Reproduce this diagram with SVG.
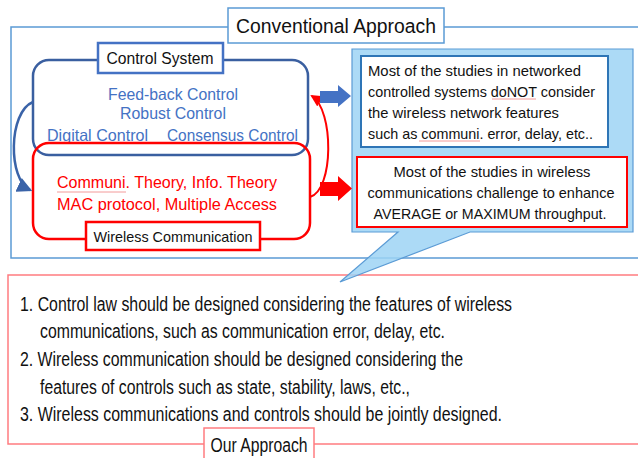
<svg xmlns="http://www.w3.org/2000/svg" width="638" height="458" viewBox="0 0 638 458">
<style>
text{font-family:"Liberation Sans",Arial,sans-serif;}
.frameB{fill:none;stroke:#5b9bd5;stroke-width:1.5}
.frameR{fill:none;stroke:#ff7c80;stroke-width:1.5}
.blueT{fill:#4472c4;font-size:16.5px}
.redT{fill:#ff0000;font-size:16.5px}
.bk{fill:#111;}
.wavy{fill:none;stroke:#f08080;stroke-width:0.8}
</style>
<defs>
<marker id="ahB" markerWidth="6" markerHeight="6" refX="5" refY="3" orient="auto" markerUnits="strokeWidth"><path d="M0,0 L6,3 L0,6 Z" fill="#3a63a8"/></marker>
<marker id="ahR" markerWidth="6" markerHeight="6" refX="5" refY="3" orient="auto" markerUnits="strokeWidth"><path d="M0,0 L6,3 L0,6 Z" fill="#ff0000"/></marker>
</defs>

<!-- Our Approach frame -->
<g id="our-approach">
<path class="frameR" d="M640,275 L8,275 L8,444 L204,444 M314,444 L640,444"/>
<rect x="204" y="428" width="110" height="34" fill="#fff" stroke="#ff7c80" stroke-width="1.5"/>
<text x="259" y="452" font-size="20" text-anchor="middle" class="bk" textLength="97" lengthAdjust="spacingAndGlyphs">Our Approach</text>
<g font-size="20" class="bk">
<text x="20" y="311" textLength="492" lengthAdjust="spacingAndGlyphs">1. Control law should be designed considering the features of wireless</text>
<text x="40" y="338" textLength="405" lengthAdjust="spacingAndGlyphs">communications, such as communication error, delay, etc.</text>
<text x="20" y="366" textLength="443" lengthAdjust="spacingAndGlyphs">2. Wireless communication should be designed considering the</text>
<text x="40" y="394" textLength="370" lengthAdjust="spacingAndGlyphs">features of controls such as state, stability, laws, etc.,</text>
<text x="20" y="421" textLength="482" lengthAdjust="spacingAndGlyphs">3. Wireless communications and controls should be jointly designed.</text>
</g>
</g>

<!-- Conventional Approach frame -->
<g id="conventional-approach">
<path class="frameB" d="M228,27 L11,27 L11,258 L640,258 M444,27 L640,27"/>
<rect x="228" y="8" width="216" height="35" fill="#fff" stroke="#5b9bd5" stroke-width="1.5"/>
<text x="336" y="33" font-size="20" text-anchor="middle" class="bk" textLength="200" lengthAdjust="spacingAndGlyphs">Conventional Approach</text>
</g>

<!-- Control System -->
<g id="control-system">
<rect x="33" y="60" width="275" height="95" rx="16" fill="none" stroke="#3a5fa0" stroke-width="2.5"/>
<rect x="98" y="43" width="125" height="30" fill="#fff" stroke="#4472c4" stroke-width="2.5"/>
<text x="160" y="64" font-size="16" text-anchor="middle" class="bk" textLength="107" lengthAdjust="spacingAndGlyphs">Control System</text>
<text x="173" y="100" class="blueT" text-anchor="middle" textLength="130" lengthAdjust="spacingAndGlyphs">Feed-back Control</text>
<text x="173" y="119" class="blueT" text-anchor="middle" textLength="106" lengthAdjust="spacingAndGlyphs">Robust Control</text>
<text x="47" y="141" class="blueT" textLength="101" lengthAdjust="spacingAndGlyphs">Digital Control</text>
<text x="167" y="141" class="blueT" textLength="131" lengthAdjust="spacingAndGlyphs">Consensus Control</text>
</g>

<!-- Wireless Communication -->
<g id="wireless-communication">
<rect x="33" y="143" width="277" height="96" rx="16" fill="none" stroke="#ff0000" stroke-width="2.5"/>
<rect x="86" y="222" width="174" height="28" fill="#fff" stroke="#ff0000" stroke-width="2.5"/>
<text x="173" y="242" font-size="14.5" text-anchor="middle" class="bk" textLength="159" lengthAdjust="spacingAndGlyphs">Wireless Communication</text>
<text x="57" y="188" class="redT" textLength="220" lengthAdjust="spacingAndGlyphs">Communi. Theory, Info. Theory</text>
<path class="wavy" d="M57,192 L126,192"/>
<text x="57" y="210" class="redT" textLength="220" lengthAdjust="spacingAndGlyphs">MAC protocol, Multiple Access</text>
</g>

<!-- Callout -->
<g id="callout">
<path d="M352,49 L633,49 L633,232 L470,232 L340,282 L398,232 L352,232 Z" fill="#9ed3f4" fill-opacity="0.85" stroke="#5b9bd5" stroke-width="1.2"/>
</g>

<g id="note-control">
<rect x="361" y="56" width="247" height="91" fill="#fff" stroke="#2e75b6" stroke-width="2"/>
<g font-size="15" class="bk">
<text x="368" y="76" textLength="213" lengthAdjust="spacingAndGlyphs">Most of the studies in networked</text>
<text x="368" y="97" textLength="227" lengthAdjust="spacingAndGlyphs">controlled systems doNOT consider</text>
<text x="368" y="118" textLength="191" lengthAdjust="spacingAndGlyphs">the wireless network features</text>
<text x="368" y="139" textLength="225" lengthAdjust="spacingAndGlyphs">such as communi. error, delay, etc..</text>
</g>
<path class="wavy" d="M492,99 L536,99 M419,141 L480,141"/>
</g>

<g id="note-wireless">
<rect x="357" y="157" width="270" height="70" fill="#fff" stroke="#ff0000" stroke-width="2"/>
<g font-size="15" class="bk" text-anchor="middle">
<text x="492" y="177" textLength="197" lengthAdjust="spacingAndGlyphs">Most of the studies in wireless</text>
<text x="491" y="198" textLength="247" lengthAdjust="spacingAndGlyphs">communications challenge to enhance</text>
<text x="490" y="219" textLength="233" lengthAdjust="spacingAndGlyphs">AVERAGE or MAXIMUM throughput.</text>
</g>
</g>

<!-- connectors -->
<g id="connectors">
<path d="M33,102 C8,112 8,180 30,190" fill="none" stroke="#3a63a8" stroke-width="2.5" marker-end="url(#ahB)"/>
<path d="M310,197 C334,190 334,110 312,96" fill="none" stroke="#ff0000" stroke-width="2" marker-end="url(#ahR)"/>
<path d="M320,91 L338,91 L338,85 L351,96 L338,107 L338,103 L320,103 Z" fill="#4472c4"/>
<path d="M320,182 L338,182 L338,176 L352,188.5 L338,201 L338,196 L320,196 Z" fill="#ff0000"/>
</g>
</svg>
